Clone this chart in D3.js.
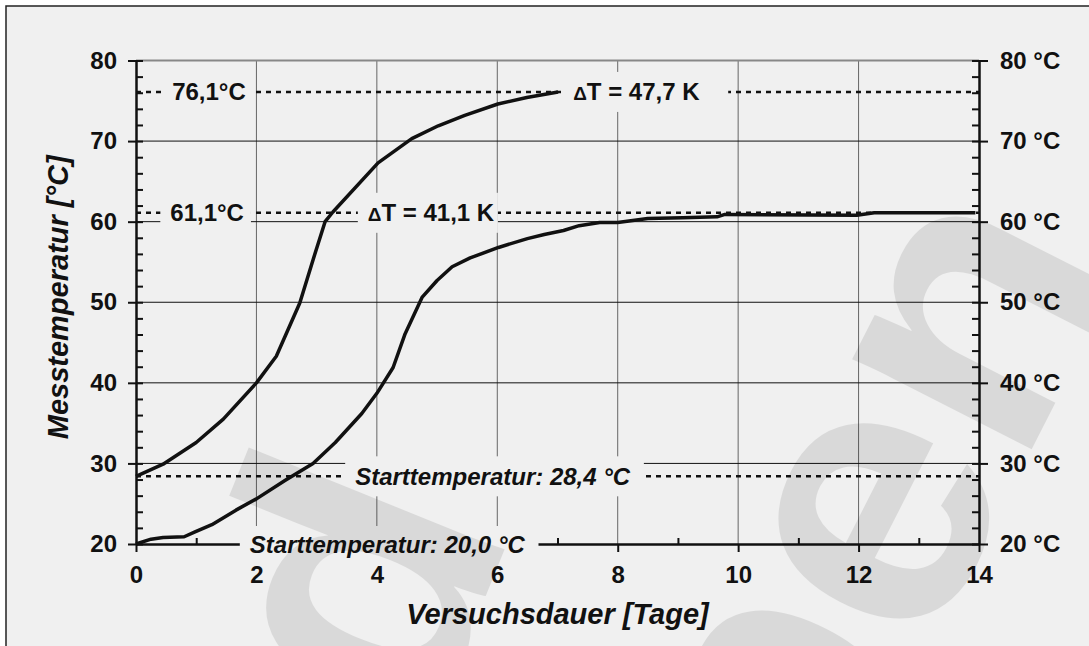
<!DOCTYPE html>
<html>
<head>
<meta charset="utf-8">
<script src="https://cdn.jsdelivr.net/npm/d3@7/dist/d3.min.js"></script>
<style>
    body { margin: 0; background: #fff; }
    svg text { font-family: "Liberation Sans", Arial, sans-serif; font-weight: bold; fill: #111; }
    .axis path, .axis line { stroke: #111; stroke-width: 2; }
    .axis text { font-size: 24px; }
</style>
</head>
<body>
<div id="chart"></div>

<script>

    // upper curve (start 28,4 °C)
    var upperDays  = [0, 0.45, 1.0, 1.45, 2.0, 2.33, 2.72, 2.95, 3.14, 3.27, 4.02, 4.58, 5.02, 5.46, 6.01, 6.49, 7.01];
    var upperTemps = [28.4, 29.9, 32.6, 35.5, 40.0, 43.3, 49.9, 55.5, 60.0, 61.2, 67.3, 70.3, 71.9, 73.2, 74.6, 75.4, 76.1];

    // lower curve (start 20,0 °C)
    var lowerDays  = [0, 0.25, 0.45, 0.8, 0.98, 1.26, 1.66, 2.0, 2.48, 2.94, 3.31, 3.75, 4.0, 4.27, 4.47, 4.75, 5.0, 5.25, 5.55, 6.02, 6.5, 6.78, 7.1, 7.36, 7.7, 8.0, 8.5, 9.08, 9.65, 9.78, 11.97, 12.26, 13.94];
    var lowerTemps = [20.0, 20.6, 20.8, 20.9, 21.5, 22.4, 24.2, 25.6, 27.9, 30.0, 32.6, 36.2, 38.7, 41.9, 46.1, 50.6, 52.7, 54.4, 55.5, 56.8, 57.9, 58.4, 58.9, 59.5, 59.9, 59.9, 60.4, 60.5, 60.6, 60.9, 60.8, 61.1, 61.1];

    var xTicks = [0, 2, 4, 6, 8, 10, 12, 14];
    var xMinor = [1, 3, 5, 7, 9, 11, 13];
    var yTicks = [20, 30, 40, 50, 60, 70, 80];
    var yMinor = d3.range(20, 81, 2);

    var refTemps = [76.1, 61.1, 28.4];

    var xTitle = 'Versuchsdauer [Tage]';
    var yTitle = 'Messtemperatur [°C]';

    var width = 1089, height = 646;
    var padding = { top: 60.5, right: 110, bottom: 102, left: 136 };

    var xScale = d3.scaleLinear()
        .domain([0, 14])
        .range([padding.left, width - padding.right]);

    var yScale = d3.scaleLinear()
        .domain([20, 80])
        .range([height - padding.bottom, padding.top]);

    // annotation labels: text, anchor day / temperature, extra box room right
    var notes = [
        { text: '76,1°C', day: 0.6, temp: 76.1, padR: 6 },
        { delta: true, text: '47,7 K', day: 7.26, temp: 76.1, padR: 28 },
        { text: '61,1°C', day: 0.57, temp: 61.1, padR: 7 },
        { delta: true, text: '41,1 K', day: 3.85, temp: 61.1, padR: 3 },
        { text: 'Starttemperatur: 28,4 °C', italic: true, day: 3.64, temp: 28.4, padR: 13 },
        { text: 'Starttemperatur: 20,0 °C', italic: true, day: 1.89, temp: 20.0, padR: 13 }
    ];

    var svg = d3.select('#chart').append('svg')
        .attr('width', width)
        .attr('height', height);

    svg.append('rect')
        .attr('x', 6).attr('y', 6)
        .attr('width', width + 10).attr('height', height + 10)
        .attr('fill', '#f0f0f0')
        .attr('stroke', '#222')
        .attr('stroke-width', 1.5);

    // grid
    svg.append('g').selectAll('line')
        .data(xTicks.slice(1, -1))
        .enter().append('line')
        .attr('x1', function(d) { return xScale(d); })
        .attr('x2', function(d) { return xScale(d); })
        .attr('y1', yScale(80)).attr('y2', yScale(20))
        .attr('stroke', '#666').attr('stroke-width', 1);

    svg.append('g').selectAll('line')
        .data(yTicks.slice(1))
        .enter().append('line')
        .attr('x1', xScale(0)).attr('x2', xScale(14))
        .attr('y1', function(d) { return yScale(d); })
        .attr('y2', function(d) { return yScale(d); })
        .attr('stroke', function(d) { return d === 80 ? '#888' : '#111'; })
        .attr('stroke-width', function(d) { return d === 80 ? 2 : 1; });

    // reference temperatures
    svg.append('g').selectAll('line')
        .data(refTemps)
        .enter().append('line')
        .attr('x1', xScale(0)).attr('x2', xScale(14))
        .attr('y1', function(d) { return yScale(d); })
        .attr('y2', function(d) { return yScale(d); })
        .attr('stroke', '#111')
        .attr('stroke-width', 2.5)
        .attr('stroke-dasharray', '5,5');

    // axes
    var x0 = xScale(0), x1 = xScale(14), y0 = yScale(20);

    svg.append('g').attr('class', 'axis')
        .attr('transform', 'translate(' + x0 + ',0)')
        .call(d3.axisLeft(yScale).tickValues(yTicks).tickSize(8).tickSizeOuter(0).tickPadding(11));
    svg.append('g').attr('class', 'axis')
        .attr('transform', 'translate(' + x0 + ',0)')
        .call(d3.axisRight(yScale).tickValues(yMinor).tickSize(7).tickSizeOuter(0).tickFormat(''));

    svg.append('g').attr('class', 'axis')
        .attr('transform', 'translate(' + x1 + ',0)')
        .call(d3.axisRight(yScale).tickValues(yTicks).tickSize(9).tickSizeOuter(0).tickPadding(12)
            .tickFormat(function(d) { return d + ' °C'; }));
    svg.append('g').attr('class', 'axis')
        .attr('transform', 'translate(' + x1 + ',0)')
        .call(d3.axisLeft(yScale).tickValues(yMinor).tickSize(7).tickSizeOuter(0).tickFormat(''));

    svg.append('g').attr('class', 'axis')
        .attr('transform', 'translate(0,' + y0 + ')')
        .call(d3.axisBottom(xScale).tickValues(xTicks).tickSize(8).tickSizeOuter(0).tickPadding(14));
    svg.append('g').attr('class', 'axis')
        .attr('transform', 'translate(0,' + y0 + ')')
        .call(d3.axisTop(xScale).tickValues(xMinor).tickSize(6).tickSizeOuter(0).tickFormat(''));

    // labels with background boxes
    var noteG = svg.append('g');
    notes.forEach(function(n) {
        var g = noteG.append('g');
        var box = g.append('rect').attr('fill', '#f0f0f0');
        var t = g.append('text')
            .attr('x', xScale(n.day))
            .attr('y', yScale(n.temp) + 8.5)
            .style('font-size', '24px')
            .style('font-style', n.italic ? 'italic' : 'normal');
        if (n.delta) {
            t.append('tspan').style('font-size', '19px').text('Δ');
            t.append('tspan').text('T = ' + n.text);
        } else {
            t.text(n.text);
        }
        var bb = t.node().getBBox();
        var h = n.temp === 20 ? 18 : 20;
        box.attr('x', bb.x - 10)
            .attr('y', yScale(n.temp) - h)
            .attr('width', bb.width + 10 + n.padR)
            .attr('height', 2 * h);
    });

    // curves
    var line = d3.line()
        .x(function(d) { return xScale(d[0]); })
        .y(function(d) { return yScale(d[1]); });

    var series = [d3.zip(upperDays, upperTemps), d3.zip(lowerDays, lowerTemps)];

    svg.append('g').selectAll('path')
        .data(series)
        .enter().append('path')
        .attr('d', line)
        .attr('fill', 'none')
        .attr('stroke', '#111')
        .attr('stroke-width', 3.5)
        .attr('stroke-linejoin', 'round');

    // axis titles
    svg.append('text')
        .attr('x', (x0 + x1) / 2)
        .attr('y', 624)
        .attr('text-anchor', 'middle')
        .style('font-size', '29px')
        .style('font-style', 'italic')
        .text(xTitle);

    svg.append('text')
        .attr('transform', 'translate(68,' + ((yScale(20) + yScale(80)) / 2 - 5) + ') rotate(-90)')
        .attr('text-anchor', 'middle')
        .style('font-size', '29px')
        .style('font-style', 'italic')
        .text(yTitle);

    // watermark
    var wm = svg.append('g').attr('opacity', 0.09);
    [['Stand', 514, 526, -68], ['Angaben', 1125, 266, -63]].forEach(function(w) {
        wm.append('text')
            .attr('transform', 'translate(' + w[1] + ',' + w[2] + ') rotate(' + w[3] + ')')
            .attr('text-anchor', 'end')
            .style('font-size', '380px')
            .style('fill', '#000')
            .text(w[0]);
    });

</script>
</body>
</html>
